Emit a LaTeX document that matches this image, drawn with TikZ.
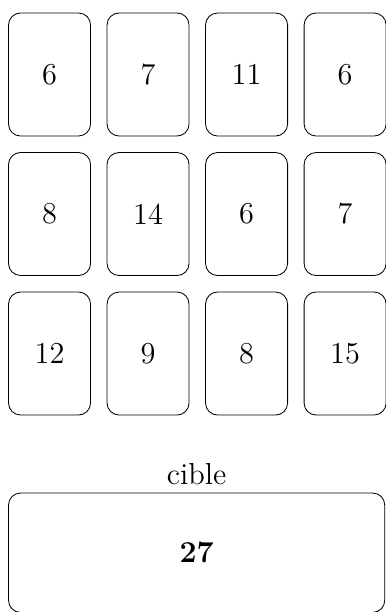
\documentclass[tikz,border=0pt]{standalone}
\usepackage{tikz}
\usetikzlibrary{positioning}

\begin{document}
\begin{tikzpicture}[
  node distance=0.275cm and 0.275cm,
  every node/.style={font=\Large},
  card/.style={rectangle, draw, rounded corners=0.2cm, minimum width=1.367cm,
               minimum height=2.05cm, outer sep=0pt, inner sep=0pt},
  goal/.style={rectangle, draw, rounded corners=0.2cm, minimum width=6.27cm,
               minimum height=1.99cm, outer sep=0pt, font=\Large\bfseries}
]
  \useasboundingbox (0,0) rectangle (6.433,-10.2);

  % first row
  \node[card, anchor=north west] (c11) at (0.142,-0.217) {6};
  \node[card, right=of c11] (c12) {7};
  \node[card, right=of c12] (c13) {11};
  \node[card, right=of c13] (c14) {6};
  % second row
  \node[card, below=of c11] (c21) {8};
  \node[card, right=of c21] (c22) {14};
  \node[card, right=of c22] (c23) {6};
  \node[card, right=of c23] (c24) {7};
  % third row
  \node[card, below=of c21] (c31) {12};
  \node[card, right=of c31] (c32) {9};
  \node[card, right=of c32] (c33) {8};
  \node[card, right=of c33] (c34) {15};

  % target
  \node[goal, anchor=north west] (t) at (0.142,-8.217) {27};
  \node[above=0.02cm of t] (tl) {cible};
\end{tikzpicture}
\end{document}
